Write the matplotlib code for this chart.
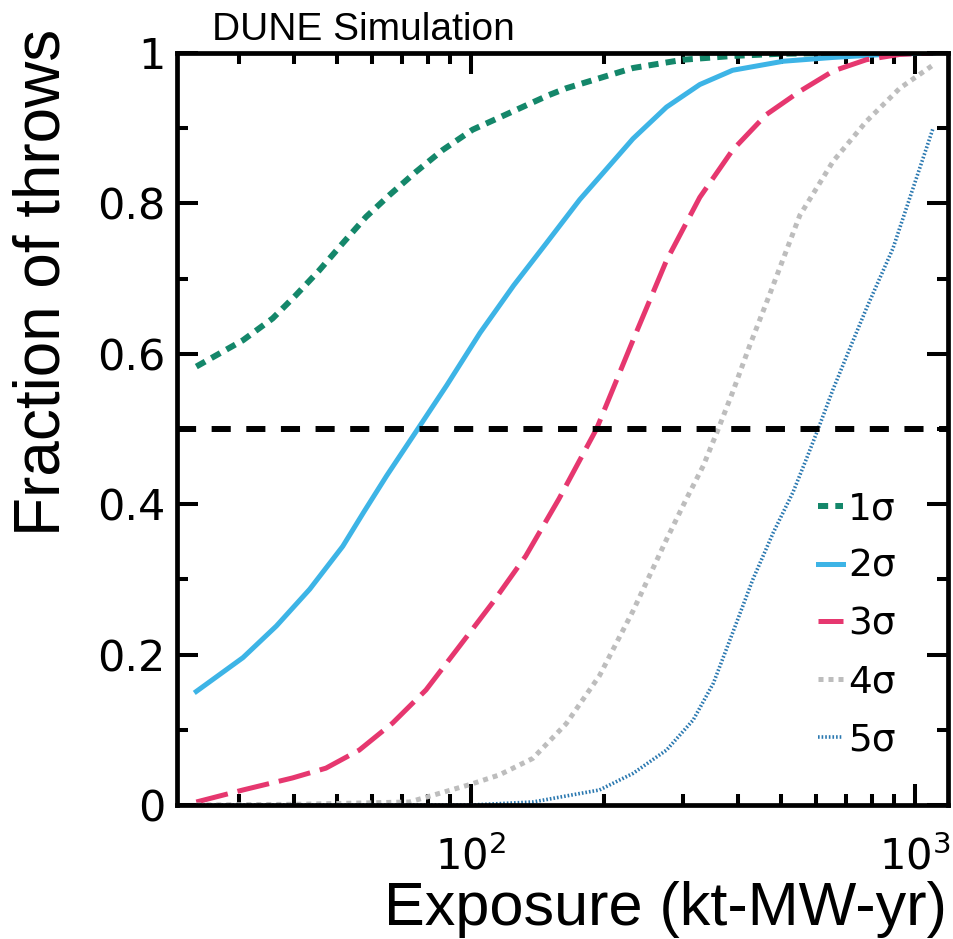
import numpy as np
import matplotlib.pyplot as plt
from matplotlib.ticker import FixedLocator, NullFormatter

# exposure (kt-MW-yr) vs fraction of throws
exp_1s = [24.1, 30.7, 35.8, 40.4, 45.6, 51.5, 58.1, 65.6, 75.3, 86.5, 101, 122, 150, 164, 232, 301, 389, 500, 700, 1100]
frac_1s = [0.583, 0.618, 0.647, 0.678, 0.711, 0.747, 0.782, 0.811, 0.842, 0.871, 0.898, 0.92, 0.944, 0.953, 0.98, 0.991, 0.996, 0.999, 1.0, 1.0]

exp_2s = [24.1, 30.7, 36.5, 43.4, 51.5, 57.5, 64.7, 76.0, 88.3, 105, 125, 148, 176, 195, 232, 276, 328, 389, 506, 653, 850, 1100]
frac_2s = [0.151, 0.196, 0.238, 0.287, 0.344, 0.39, 0.438, 0.5, 0.558, 0.628, 0.691, 0.747, 0.805, 0.835, 0.886, 0.928, 0.958, 0.977, 0.989, 0.994, 0.998, 1.0]

exp_3s = [24.1, 30.7, 39.7, 47.2, 56.1, 66.7, 79.3, 94.3, 112, 133, 158, 192, 232, 276, 328, 389, 463, 551, 655, 778, 925, 1100]
frac_3s = [0.004, 0.02, 0.036, 0.049, 0.073, 0.109, 0.153, 0.211, 0.269, 0.331, 0.407, 0.5, 0.618, 0.724, 0.808, 0.871, 0.918, 0.949, 0.976, 0.991, 0.998, 1.0]

exp_4s = [24.1, 41.3, 72.8, 99.3, 116, 138, 164, 195, 232, 276, 306, 334, 361, 389, 425, 472, 551, 655, 778, 925, 1100]
frac_4s = [0.0, 0.001, 0.004, 0.027, 0.04, 0.062, 0.108, 0.172, 0.258, 0.353, 0.407, 0.451, 0.5, 0.549, 0.611, 0.68, 0.784, 0.856, 0.909, 0.953, 0.984]

exp_5s = [24.1, 69.3, 100, 138, 195, 232, 276, 317, 352, 389, 432, 480, 532, 570, 606, 655, 714, 778, 893, 991, 1100]
frac_5s = [0.0, 0.0, 0.0, 0.004, 0.02, 0.042, 0.073, 0.113, 0.162, 0.229, 0.3, 0.362, 0.416, 0.46, 0.5, 0.553, 0.607, 0.66, 0.74, 0.82, 0.9]

labels = ['1σ', '2σ', '3σ', '4σ', '5σ']

fig = plt.figure(figsize=(9.54, 9.39), dpi=100)
ax = fig.add_axes([0.1855, 0.1427, 0.8085, 0.8009])

ax.plot(exp_1s, frac_1s, color='#14876a', lw=4.3, ls=(0, (1.7, 1.2)), label=labels[0])
ax.plot(exp_2s, frac_2s, color='#3db4e6', lw=3.6, ls='-', label=labels[1])
ax.plot(exp_3s, frac_3s, color='#e6376f', lw=3.6, ls=(0, (6.5, 2.0)), label=labels[2])
ax.plot(exp_4s, frac_4s, color='#bdbdbd', lw=3.6, ls=(0, (1, 1)), label=labels[3])
ax.plot(exp_5s, frac_5s, color='#2a78b0', lw=2.6, ls=(0, (0.45, 0.55)), label=labels[4])
ax.axhline(0.5, color='black', lw=4.3, ls=(0, (3.2, 2.6)))

ax.set_xscale('log')
ax.set_xlim(21.8, 1190)
ax.set_ylim(0, 1)

ax.xaxis.set_major_locator(FixedLocator([100, 1000]))
ax.set_xticklabels([r'$10^{2}$', r'$10^{3}$'])
ax.xaxis.set_minor_locator(FixedLocator([30, 40, 50, 60, 70, 80, 90, 200, 300, 400, 500, 600, 700, 800, 900]))
ax.xaxis.set_minor_formatter(NullFormatter())
ax.set_yticks([0, 0.2, 0.4, 0.6, 0.8, 1.0])
ax.set_yticklabels(['0', '0.2', '0.4', '0.6', '0.8', '1'])
ax.set_yticks(np.arange(0.1, 1.0, 0.2), minor=True)

ax.tick_params(which='both', direction='in', top=True, right=True, width=2.9, color='black')
ax.tick_params(which='major', length=15)
ax.tick_params(which='minor', length=8)
ax.tick_params(axis='y', which='major', labelsize=31, pad=8)
ax.tick_params(axis='x', which='major', labelsize=30, pad=22)
for s in ax.spines.values():
    s.set_linewidth(3.4)

fig.text(947 / 954, 1 - 925 / 939, 'Exposure (kt-MW-yr)', ha='right', va='baseline',
         fontsize=44, family=['Liberation Sans', 'DejaVu Sans'])
fig.text(43 / 954, 1 - 282 / 939, 'Fraction of throws', rotation=90, ha='center', va='center',
         fontsize=46, family=['Liberation Sans', 'DejaVu Sans'])
fig.text(212 / 954, 1 - 40 / 939, 'DUNE Simulation', ha='left', va='baseline',
         fontsize=28, family=['Liberation Sans', 'DejaVu Sans'])

ax.legend(loc='center left', bbox_to_anchor=(0.831, 0.24), frameon=False, fontsize=27,
          handlelength=0.68, handletextpad=0.12, labelspacing=0.58, borderpad=0, borderaxespad=0)

fig.savefig('out.png', dpi=100)
